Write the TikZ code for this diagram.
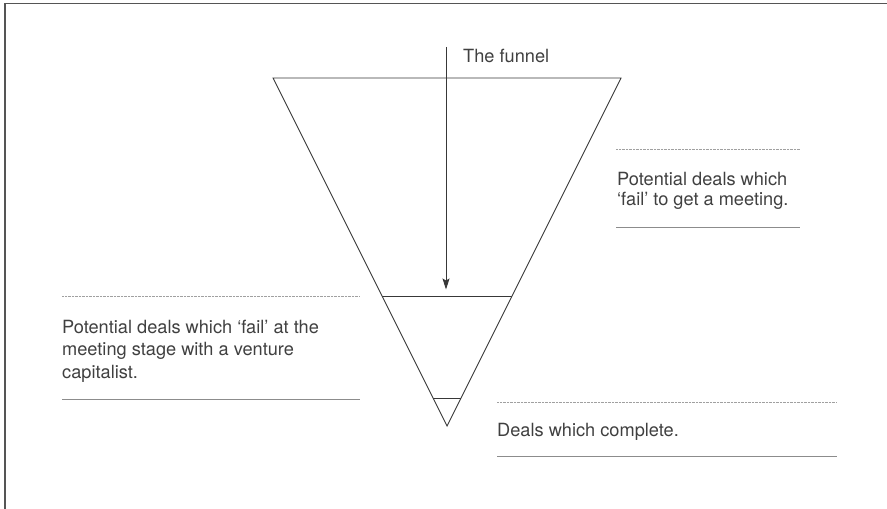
\documentclass[tikz,border=0pt]{standalone}
\usepackage{fontspec}
\setmainfont{TeX Gyre Heros}
\usetikzlibrary{arrows.meta,calc}
\definecolor{txtgray}{HTML}{404040}
\definecolor{linegray}{HTML}{383838}
\definecolor{framegray}{HTML}{555555}
\definecolor{rulegray}{HTML}{8C8C8C}
\definecolor{dotgray}{HTML}{A0A0A0}
\tikzset{
  frameline/.style={draw=framegray, line width=1.4pt},
  funnelline/.style={draw=linegray, line width=0.9pt, line join=miter},
  solidrule/.style={draw=rulegray, line width=1pt},
  dotrule/.style={draw=dotgray, line width=1pt, dash pattern=on 0.7pt off 0.7pt},
  label/.style={anchor=base west, inner sep=0pt, text=txtgray, font=\fontsize{18.2}{21}\selectfont},
  funnelarrow/.style={draw=linegray, line width=0.9pt, -{Stealth[length=11pt,width=7pt,inset=2pt]}}
}
\begin{document}
\begin{tikzpicture}[x=1pt,y=1pt]
\useasboundingbox (0,0) rectangle (887,509);
% frame
\coordinate (fb) at (5,0);
\coordinate (ftl) at (5,505.5);
\coordinate (ftr) at (887,505.5);
\draw[frameline] (fb) -- (ftl) -- (ftr);
% funnel
\coordinate (A) at (273,431);
\coordinate (B) at (621,431);
\coordinate (C) at (447,83);
\draw[funnelline] (A) -- (B) -- (C) -- cycle;
\coordinate (m1) at ($(A)!0.6264!(C)$);
\coordinate (m2) at ($(B)!0.6264!(C)$);
\coordinate (s1) at ($(A)!0.9195!(C)$);
\coordinate (s2) at ($(B)!0.9195!(C)$);
\draw[funnelline] (m1) -- (m2);
\draw[funnelline] (s1) -- (s2);
% arrow
\coordinate (arrtop) at (446,462);
\coordinate (arrend) at (446,219.5);
\draw[funnelarrow] (arrtop) -- (arrend);
\node[label] (funnel) at (463,446) {The funnel};
% right upper block
\coordinate (ru1) at (616,359);
\coordinate (ru2) at (800,359);
\draw[dotrule] (ru1) -- (ru2);
\node[label] (rutext) at (617,323) {\vtop{\baselineskip=20pt\hbox{Potential deals which}\hbox{‘fail’ to get a meeting.}}};
\coordinate (rb1) at (616,281);
\coordinate (rb2) at (800,281);
\draw[solidrule] (rb1) -- (rb2);
% left block
\coordinate (lu1) at (62,212);
\coordinate (lu2) at (360,212);
\draw[dotrule] (lu1) -- (lu2);
\node[label] (ltext) at (62,175.5) {\vtop{\baselineskip=22.5pt\hbox{Potential deals which ‘fail’ at the}\hbox{meeting stage with a venture}\hbox{capitalist.}}};
\coordinate (lb1) at (62,109);
\coordinate (lb2) at (360,109);
\draw[solidrule] (lb1) -- (lb2);
% bottom right block
\coordinate (bu1) at (497,106);
\coordinate (bu2) at (837,106);
\draw[dotrule] (bu1) -- (bu2);
\node[label] (btext) at (497,72) {Deals which complete.};
\coordinate (bb1) at (497,52);
\coordinate (bb2) at (837,52);
\draw[solidrule] (bb1) -- (bb2);
\end{tikzpicture}
\end{document}
